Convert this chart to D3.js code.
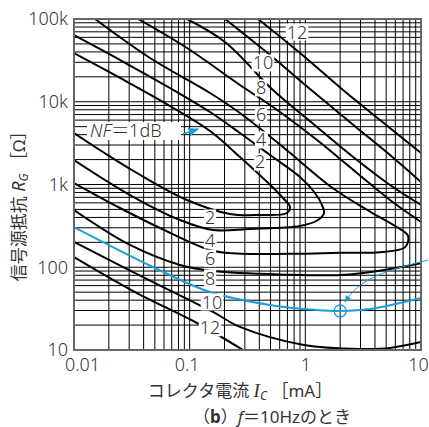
<!DOCTYPE html>
<html><head><meta charset="utf-8">
<script src="https://cdn.jsdelivr.net/npm/d3@7"></script>
<style>
body{margin:0;background:#fff}
text{font-family:"Noto Sans","Noto Sans CJK JP",sans-serif;fill:#333}
</style></head><body><svg id="chart" width="429" height="427"></svg>
<script>
// NF contours, [Ic mA, Rg ohm]
var nf2 = [[0.01,38800],[0.025,19400],[0.0676,8880],[0.150,4430],[0.272,2150],[0.448,1133],[0.641,687],[0.737,535],[0.694,452],[0.406,428],[0.223,440],[0.0948,650],[0.035,1377],[0.0178,2470],[0.01,4190]];
var nf4 = [[0.01,64060],[0.025,31960],[0.0676,14660],[0.150,7516],[0.272,4192],[0.495,2272],[0.899,1232],[1.212,789],[1.393,565],[1.450,452],[1.287,372],[0.899,315],[0.332,290],[0.159,282],[0.0825,372],[0.0305,746],[0.01,1977]];
var nf6 = [[0.0152,100000],[0.0454,33800],[0.150,12760],[0.272,7311],[0.641,2839],[1.734,900],[3.622,470],[6.326,300],[7.720,240],[7.30,175],[4.421,152],[1.994,150],[0.899,146],[0.332,145],[0.159,158],[0.0554,298],[0.025,520],[0.01,1042]];
var nf8hi = [[0.0358,100000],[0.0948,44610],[0.272,15940],[0.525,8641],[1.261,3449],[2.797,1377],[5.395,650],[10,352]];
var nf8lo = [[0.01,492],[0.0305,186],[0.0825,106.5],[0.159,90],[0.604,82],[2.43,82],[10,112]];
var nf10hi = [[0.0948,100000],[0.202,52730],[0.525,13870],[1.261,4953],[2.797,1977],[5.395,986],[10,565]];
var nf10lo = [[0.01,202],[0.0395,76.2],[0.159,28.8],[0.272,19.0],[0.973,11.5],[2.97,10.3],[5.395,10.6],[10,12.5]];
var nf12hi = [[0.202,100000],[0.495,36710],[1.097,14260],[2.797,4816],[5.395,2272],[10,1072]];
var nf12lo = [[0.01,133],[0.035,48.8],[0.1157,21.2],[0.289,10]];
var nf14hi = [[0.390,100000],[0.899,38820],[2.117,13870],[4.421,6017],[10,2402]];

// blue curve + marked point
var blueCurve = [[0.01,306],[0.0482,100.7],[0.150,50.2],[0.495,35.0],[1.261,30.4],[1.994,29.6],[3.622,31.2],[10,42.5]];
var bluePoint = [2.0,29.6];
var blueArrow = [[11.5,122],[4.17,85.2],[2.58,53.1],[2.2,38]];

var nfLabels = [
  {t:"12",ic:0.847,rg:69600},{t:"10",ic:0.430,rg:29400},{t:"8",ic:0.414,rg:14660},
  {t:"6",ic:0.414,rg:6920},{t:"4",ic:0.414,rg:3450},{t:"2",ic:0.406,rg:1870},
  {t:"2",ic:0.150,rg:394},{t:"4",ic:0.150,rg:213},{t:"6",ic:0.150,rg:129},
  {t:"8",ic:0.150,rg:74.1},{t:"10",ic:0.156,rg:38.0},{t:"12",ic:0.150,rg:18.5}
];

var xTicks = [0.01,0.1,1,10];
var xTickText = ["0.01","0.1","1","10"];
var yTicks = [10,100,1000,10000,100000];
var yTickText = ["10","100","1k","10k","100k"];

var svg = d3.select("#chart");
var x = d3.scaleLog().domain([0.01,10]).range([74,421]);
var y = d3.scaleLog().domain([10,100000]).range([350,19]);

var blue = "#1a9fdb";

//grid
var grid = svg.append("g");
grid.selectAll(".vx").data(x.ticks()).enter().append("line")
    .attr("x1",d=>x(d)).attr("x2",d=>x(d)).attr("y1",y(10)).attr("y2",y(100000))
    .attr("stroke","#000").attr("stroke-width",1);
grid.selectAll(".hy").data(y.ticks()).enter().append("line")
    .attr("x1",x(0.01)).attr("x2",x(10)).attr("y1",d=>y(d)).attr("y2",d=>y(d))
    .attr("stroke","#000").attr("stroke-width",1);

//curves
var line = d3.line().x(d=>x(d[0])).y(d=>y(d[1])).curve(d3.curveCatmullRom.alpha(0.5));
svg.append("clipPath").attr("id","pa").append("rect")
    .attr("x",x(0.01)).attr("y",y(100000)).attr("width",x(10)-x(0.01)).attr("height",y(10)-y(100000));
var curves = svg.append("g").attr("clip-path","url(#pa)");
[nf2,nf4,nf6,nf8hi,nf8lo,nf10hi,nf10lo,nf12hi,nf12lo,nf14hi].forEach(function(c){
  curves.append("path").attr("d",line(c)).attr("fill","none")
        .attr("stroke","#000").attr("stroke-width",2);
});
curves.append("path").attr("d",line(blueCurve)).attr("fill","none")
      .attr("stroke",blue).attr("stroke-width",2);
svg.append("circle").attr("cx",x(bluePoint[0])).attr("cy",y(bluePoint[1])).attr("r",6)
   .attr("fill","none").attr("stroke",blue).attr("stroke-width",1.3);

// arrow
svg.append("defs").append("marker").attr("id","ah").attr("viewBox","0 0 10 10")
   .attr("refX",9).attr("refY",5).attr("markerWidth",7).attr("markerHeight",7).attr("orient","auto")
   .append("path").attr("d","M0,1 L10,5 L0,9 z").attr("fill",blue);
svg.append("path").attr("d",d3.line().x(d=>x(d[0])).y(d=>y(d[1])).curve(d3.curveBasis)(blueArrow))
   .attr("fill","none").attr("stroke",blue).attr("stroke-width",1).attr("marker-end","url(#ah)");

//frame
svg.append("rect").attr("x",x(0.01)).attr("y",y(100000)).attr("width",x(10)-x(0.01))
   .attr("height",y(10)-y(100000)).attr("fill","none").attr("stroke","#666").attr("stroke-width",2);

//labels on the curves
var lab = svg.append("g").selectAll("g").data(nfLabels).enter().append("g")
    .attr("transform",d=>`translate(${x(d.ic)},${y(d.rg)})`);
lab.append("rect").attr("fill","#fff");
lab.append("text").attr("text-anchor","middle").attr("dy","0.36em")
   .style("font-size","18px").style("font-weight",300).text(d=>d.t);
lab.each(function(){
  var g = d3.select(this), b = g.select("text").node().getBBox();
  g.select("rect").attr("x",b.x-1).attr("y",b.y+4).attr("width",b.width+2).attr("height",b.height-7);
});

// NF=1dB
var nfb = svg.append("g");
nfb.append("rect").attr("x",87).attr("y",122).attr("width",94).attr("height",18).attr("fill","#fff");
var t1 = nfb.append("text").attr("x",90).attr("y",137).style("font-size","18px").style("font-weight",300);
t1.append("tspan").style("font-style","italic").text("NF");
t1.append("tspan").text("＝1dB");
svg.append("line").attr("x1",183).attr("y1",134).attr("x2",198).attr("y2",129)
   .attr("stroke",blue).attr("stroke-width",1.5).attr("marker-end","url(#ah)");

//axes
var xa = svg.append("g").attr("transform",`translate(0,${y(10)})`)
    .call(d3.axisBottom(x).tickValues(xTicks).tickSize(0).tickPadding(8).tickFormat((d,i)=>xTickText[i]));
var ya = svg.append("g").attr("transform",`translate(${x(0.01)},0)`)
    .call(d3.axisLeft(y).tickValues(yTicks).tickSize(0).tickPadding(6).tickFormat((d,i)=>yTickText[i]));
[xa,ya].forEach(a=>{a.select(".domain").remove(); a.selectAll("text").style("font-size","18px").style("font-weight",300).attr("fill","#333").style("font-family","Noto Sans")});
// nudge the end labels inside like the original
xa.selectAll(".tick text").attr("dx",(d,i)=>[8,-3,0,-3][i]);

//titles
var xt = svg.append("text").attr("x",240).attr("y",397).attr("text-anchor","middle").style("font-size","17px");
xt.append("tspan").text("コレクタ電流 ");
xt.append("tspan").style("font-style","italic").style("font-family","Liberation Serif").style("font-size","19px").text("I");
xt.append("tspan").attr("dy",3).style("font-size","12px").style("font-style","italic").text("C");
xt.append("tspan").attr("dy",-3).text(" ［mA］");

var yt = svg.append("text").attr("transform","translate(25,202) rotate(-90)").attr("text-anchor","middle").style("font-size","17px");
yt.append("tspan").text("信号源抵抗 ");
yt.append("tspan").style("font-style","italic").style("font-size","18px").text("R");
yt.append("tspan").attr("dy",3).style("font-size","12px").style("font-style","italic").text("G");
yt.append("tspan").attr("dy",-3).text(" ［Ω］");

var cap = svg.append("text").attr("x",272).attr("y",423).attr("text-anchor","middle").style("font-size","17px");
cap.append("tspan").text("（");
cap.append("tspan").style("font-weight","bold").text("b");
cap.append("tspan").text("）");
cap.append("tspan").style("font-style","italic").text("f");
cap.append("tspan").text("＝10Hzのとき");
</script></body></html>
